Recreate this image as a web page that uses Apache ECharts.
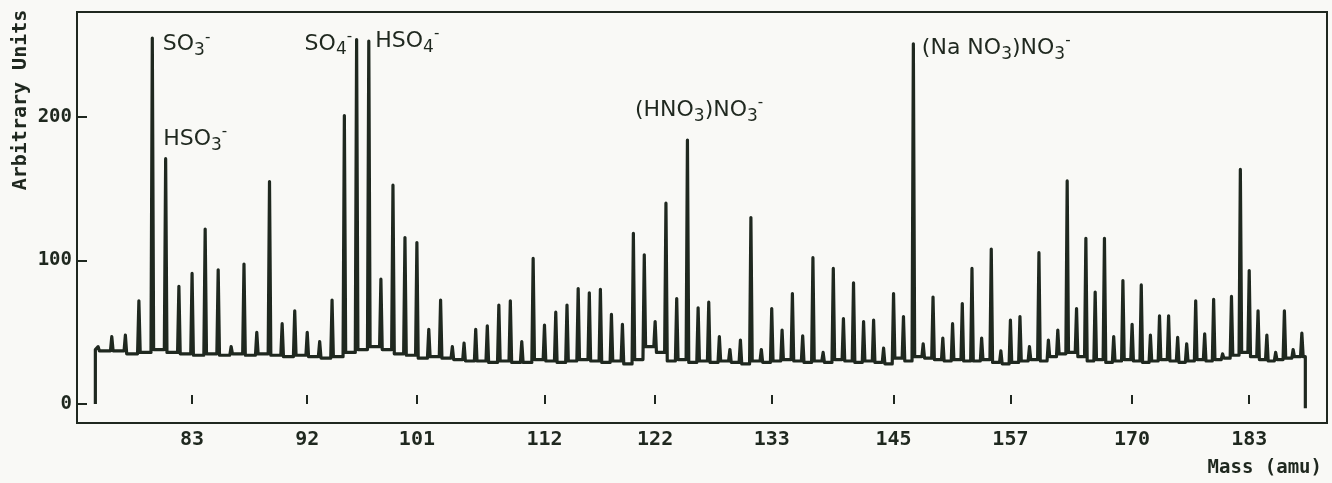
<!DOCTYPE html>
<html>
<head>
<meta charset="utf-8">
<script src="https://cdn.jsdelivr.net/npm/echarts@6/dist/echarts.min.js"></script>
<style>
  html, body { margin: 0; padding: 0; background: #f9f9f6; }
  #chart { width: 1332px; height: 483px; }
</style>
</head>
<body>
<div id="chart"></div>
<script>
// negative-ion spectrum, one peak per integer mass (amu)
const masses = [];
for (let m = 76; m <= 189; m++) masses.push(m);

const peaks = [
  40, 47, 48, 72, 255, 171, 82, 91, 122, 93.5,
  40, 97.5, 50, 155, 56, 65, 50, 43.5, 72.5, 201,
  254, 253, 87, 152.5, 116, 112.5, 52, 72.5, 40, 42.5,
  52, 54.5, 69, 72, 43.5, 101.5, 55, 64, 69, 80.5,
  77.5, 80, 62.5, 55.5, 119, 104, 57.5, 140, 73.5, 184,
  67, 71, 47, 38, 44.5, 130, 38, 66.5, 51.5, 77,
  47.5, 102, 36, 94.5, 59.5, 84.5, 57.5, 58.5, 39, 77,
  61, 251, 42, 74.5, 46, 56, 70, 94.5, 46, 108,
  37, 58.5, 61, 40, 105.5, 44.5, 51.5, 155.5, 66.5, 115.5,
  78, 115.5, 47, 86, 55.5, 83, 48, 61.5, 61.5, 46.5,
  42, 72, 49, 73, 35, 75, 163.5, 93, 65, 48,
  36, 65, 38, 49.5
];

// baseline level between mass m and m+1
const valleys = [
  37, 37, 35, 36, 38, 36, 35, 34, 35, 34,
  35, 34, 35, 34, 33, 34, 33, 32, 33, 36,
  38, 40, 38, 35, 34, 32, 33, 32, 31, 30,
  30, 29, 30, 29, 29, 31, 30, 29, 30, 31,
  30, 29, 30, 28, 31, 40, 36, 30, 31, 29,
  30, 29, 30, 29, 28, 30, 29, 30, 31, 30,
  29, 30, 29, 31, 30, 29, 30, 29, 28, 32,
  30, 33, 32, 31, 30, 31, 30, 30, 31, 29,
  28, 29, 30, 31, 30, 33, 35, 36, 33, 30,
  31, 29, 30, 31, 30, 29, 30, 31, 30, 29,
  30, 31, 30, 31, 32, 34, 36, 33, 31, 30,
  31, 32, 33
];

// trace start / end: [mass, level before, level after]
const traceStart = [75.8, 0, 38];
const traceEnd = [189.4, 33, -3];

const tickMasses = [83, 92, 101, 112, 122, 133, 145, 157, 170, 183];
const yTicks = [0, 100, 200];

const ionMasses = [80, 81, 96, 97, 125, 147];
const ionLabels = [
  '{m|SO}{s|3}{p|-}',
  '{m|HSO}{s|3}{p|-}',
  '{m|SO}{s|4}{p|-}',
  '{m|HSO}{s|4}{p|-}',
  '{m|(HNO}{s|3}{m|)NO}{s|3}{p|-}',
  '{m|(Na NO}{s|3}{m|)NO}{s|3}{p|-}'
];

// time-of-flight: the axis is linear in sqrt(mass)
const pos = Math.sqrt;
const HW = 0.0055; // peak half width, in sqrt(amu)

const trace = [[pos(traceStart[0]), traceStart[1]], [pos(traceStart[0]), traceStart[2]]];
masses.forEach((m, i) => {
  const left = i === 0 ? traceStart[2] : valleys[i - 1];
  const right = i === masses.length - 1 ? traceEnd[1] : valleys[i];
  trace.push([pos(m) - HW, left], [pos(m), peaks[i]], [pos(m) + HW, right]);
});
trace.push([pos(traceEnd[0]), traceEnd[1]], [pos(traceEnd[0]), traceEnd[2]]);

const ink = '#1f281f';
const labelPlace = {
  80: { position: [11, 7], align: 'left' },
  81: { position: [-2, -19], align: 'left' },
  96: { position: [-4, 5], align: 'right' },
  97: { position: [7, 1], align: 'left' },
  125: { position: [-52, -29], align: 'left' },
  147: { position: [9, 5], align: 'left' }
};

const handFont = 'DejaVu Sans';
const ionPoints = ionMasses.map((m, i) => ({
  coord: [pos(m), peaks[masses.indexOf(m)]],
  label: {
    show: true,
    formatter: ionLabels[i],
    position: labelPlace[m].position,
    align: labelPlace[m].align,
    verticalAlign: 'middle',
    rich: {
      m: { fontFamily: handFont, fontSize: 22, color: ink },
      s: { fontFamily: handFont, fontSize: 17, color: ink, padding: [12, 0, 0, 0] },
      p: { fontFamily: handFont, fontSize: 15, color: ink, padding: [0, 0, 14, 0] }
    }
  }
}));

const chart = echarts.init(document.getElementById('chart'));
const mono = 'DejaVu Sans Mono';

chart.setOption({
  backgroundColor: '#f9f9f6',
  animation: false,
  grid: {
    left: 77, right: 5, top: 12, bottom: 60,
    show: true, borderColor: ink, borderWidth: 2,
    outerBoundsMode: 'none'
  },
  xAxis: {
    type: 'value',
    min: pos(74.47),
    max: pos(191.9),
    axisLine: { show: false },
    splitLine: { show: false },
    axisTick: {
      show: true, inside: true, length: 9,
      customValues: tickMasses.map(pos),
      lineStyle: { color: ink, width: 2 }
    },
    axisLabel: {
      customValues: tickMasses.map(pos),
      formatter: v => String(Math.round(v * v)),
      margin: 7,
      fontFamily: mono, fontWeight: 'bold', fontSize: 20, color: ink
    }
  },
  yAxis: {
    type: 'value',
    min: -13.2,
    max: 273.2,
    axisLine: { show: false },
    splitLine: { show: false },
    axisTick: {
      show: true, inside: true, length: 10,
      customValues: yTicks,
      lineStyle: { color: ink, width: 2 }
    },
    axisLabel: {
      customValues: yTicks,
      margin: 5,
      fontFamily: mono, fontWeight: 'bold', fontSize: 19, color: ink
    }
  },
  graphic: [
    {
      type: 'text', x: 21, y: 100, rotation: Math.PI / 2,
      style: {
        text: 'Arbitrary Units', align: 'center', verticalAlign: 'middle',
        font: 'bold 20px "DejaVu Sans Mono"', fill: ink
      }
    },
    {
      type: 'text', x: 1322, y: 468,
      style: {
        text: 'Mass (amu)', align: 'right', verticalAlign: 'middle',
        font: 'bold 19px "DejaVu Sans Mono"', fill: ink
      }
    }
  ],
  series: [
    {
      type: 'line',
      data: trace,
      showSymbol: false,
      silent: true,
      lineStyle: { color: ink, width: 3.2, join: 'round' },
      markPoint: {
        symbol: 'circle',
        symbolSize: 1,
        silent: true,
        itemStyle: { color: 'rgba(0,0,0,0)' },
        data: ionPoints
      }
    }
  ]
});
</script>
</body>
</html>
